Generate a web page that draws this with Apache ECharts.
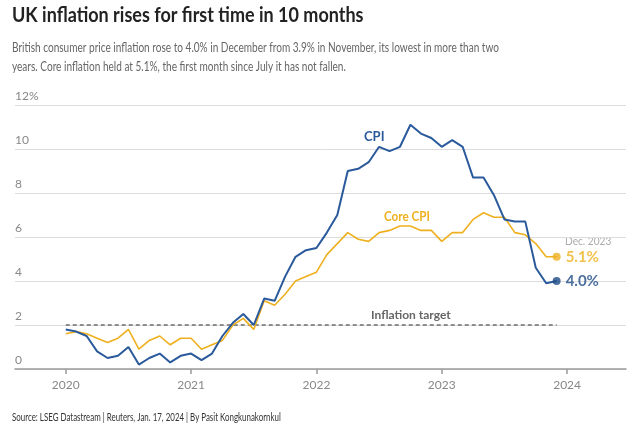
<!DOCTYPE html>
<html>
<head>
<meta charset="utf-8">
<script src="https://cdn.jsdelivr.net/npm/echarts@6/dist/echarts.min.js"></script>
<style>
html,body{margin:0;padding:0;background:#fff;}
#chart{width:640px;height:426px;}
</style>
</head>
<body>
<div id="chart"></div>
<script>
// ---- data ----
const months = [];
for (let y = 2020; y <= 2023; y++) for (let m = 1; m <= 12; m++) months.push(y + '-' + String(m).padStart(2, '0'));
const cpi = [1.8,1.7,1.5,0.8,0.5,0.6,1.0,0.2,0.5,0.7,0.3,0.6,
             0.7,0.4,0.7,1.5,2.1,2.5,2.0,3.2,3.1,4.2,5.1,5.4,
             5.5,6.2,7.0,9.0,9.1,9.4,10.1,9.9,10.1,11.1,10.7,10.5,
             10.1,10.4,10.1,8.7,8.7,7.9,6.8,6.7,6.7,4.6,3.9,4.0];
const coreCpi = [1.6,1.7,1.6,1.4,1.2,1.4,1.8,0.9,1.3,1.5,1.1,1.4,
                 1.4,0.9,1.1,1.3,2.0,2.3,1.8,3.1,2.9,3.4,4.0,4.2,
                 4.4,5.2,5.7,6.2,5.9,5.8,6.2,6.3,6.5,6.5,6.3,6.3,
                 5.8,6.2,6.2,6.8,7.1,6.9,6.9,6.2,6.1,5.7,5.1,5.1];
const inflationTarget = 2;
const yearTicks = [2020, 2021, 2022, 2023, 2024];

const toX = s => { const [y, m] = s.split('-').map(Number); return y + (m - 1) / 12; };
const cpiData = months.map((mo, i) => [toX(mo), cpi[i]]);
const coreData = months.map((mo, i) => [toX(mo), coreCpi[i]]);
const targetData = [[toX(months[0]), inflationTarget], [toX(months[months.length - 1]), inflationTarget]];

const BLUE = '#2a5a9b', BLUE_DARK = '#1d4a85', GOLD = '#efb01f';
const FONT = 'Lato, "Open Sans", sans-serif';

const chart = echarts.init(document.getElementById('chart'), null, {renderer: 'canvas'});
chart.setOption({
  animation: false,
  textStyle: {fontFamily: FONT},
  grid: {left: 15, right: 14, top: 105, bottom: 57},
  xAxis: {
    type: 'value', min: 2019.595, max: 2024.47,
    axisLine: {show: true, lineStyle: {color: '#9a9a9a', width: 1.5}},
    axisTick: {show: true, length: 5, customValues: yearTicks, lineStyle: {color: '#9a9a9a', width: 1.5}},
    axisLabel: {customValues: yearTicks, color: '#888', fontSize: 12, margin: 10, fontFamily: FONT, formatter: v => String(Math.round(v))},
    splitLine: {show: false}
  },
  yAxis: {
    type: 'value', min: 0, max: 12, interval: 2,
    axisLine: {show: false}, axisTick: {show: false},
    axisLabel: {inside: true, verticalAlign: 'bottom', align: 'left', margin: 0, padding: [0, 0, 3, 0], color: '#888', fontSize: 12, fontFamily: FONT,
      formatter: v => v === 12 ? '12%' : String(v)},
    splitLine: {lineStyle: {color: '#dcdcdc', width: 1}}
  },
  series: [
    {type: 'line', data: targetData, symbol: 'none', silent: true,
     lineStyle: {color: '#6e6e6e', width: 1.5, type: [4, 3]}, z: 1},
    {type: 'line', name: 'Core CPI', data: coreData, symbol: 'none',
     lineStyle: {color: GOLD, width: 1.6}, z: 2},
    {type: 'line', name: 'CPI', data: cpiData, symbol: 'none',
     lineStyle: {color: BLUE, width: 2}, z: 3},
    {type: 'scatter', data: [coreData[coreData.length - 1]], symbolSize: 8, itemStyle: {color: GOLD}, z: 4,
     label: {show: true, position: 'right', distance: 5, formatter: p => p.value[1].toFixed(1) + '%', color: GOLD, fontSize: 15, fontWeight: 'bold', fontFamily: FONT}},
    {type: 'scatter', data: [cpiData[cpiData.length - 1]], symbolSize: 8, itemStyle: {color: BLUE_DARK}, z: 4,
     label: {show: true, position: 'right', distance: 5, formatter: p => p.value[1].toFixed(1) + '%', color: BLUE_DARK, fontSize: 15, fontWeight: 'bold', fontFamily: FONT}}
  ],
  graphic: [
    {type: 'text', x: 12, y: 6, scaleX: 0.9, style: {text: 'UK inflation rises for first time in 10 months', fill: '#222', font: 'bold 20px ' + FONT}},
    {type: 'text', x: 12, y: 38, scaleX: 0.774, style: {text: 'British consumer price inflation rose to 4.0% in December from 3.9% in November, its lowest in more than two\nyears. Core inflation held at 5.1%, the first month since July it has not fallen.', fill: '#666', font: '13px ' + FONT, lineHeight: 19}},
    {type: 'text', x: 12, y: 412, scaleX: 0.755, style: {text: 'Source: LSEG Datastream | Reuters, Jan. 17, 2024 | By Pasit Kongkunakornkul', fill: '#333', font: '10.5px ' + FONT}},
    {type: 'text', x: 364, y: 130, style: {text: 'CPI', fill: BLUE, font: 'bold 13px ' + FONT}},
    {type: 'text', x: 384, y: 210, scaleX: 0.9, style: {text: 'Core CPI', fill: GOLD, font: 'bold 13px ' + FONT}},
    {type: 'text', x: 371, y: 309, style: {text: 'Inflation target', fill: '#666', font: 'bold 12px ' + FONT}},
    {type: 'text', x: 565, y: 236, scaleX: 0.92, style: {text: 'Dec. 2023', fill: '#aaa', font: '11px ' + FONT}}
  ]
});
</script>
</body>
</html>
